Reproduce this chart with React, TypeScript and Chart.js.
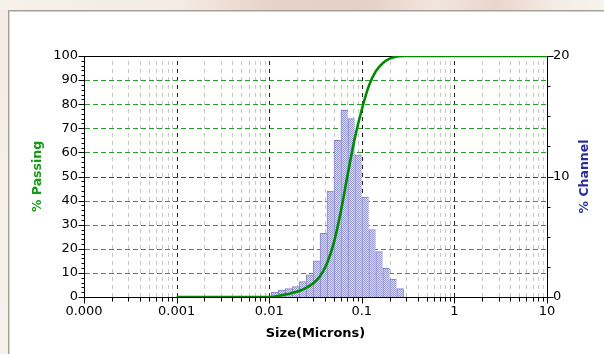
import React, { useEffect, useRef } from "react";
import { Chart, registerables } from "chart.js";

Chart.register(...registerables);
Chart.defaults.font.family = "'DejaVu Sans', sans-serif";

// Channel bin edges (microns) and % in each channel
const BIN_EDGES = [0.0105, 0.0125, 0.0149, 0.0177, 0.021, 0.025, 0.0297, 0.0354, 0.042, 0.05, 0.0595, 0.0707, 0.0841, 0.1, 0.1189, 0.1414, 0.1682, 0.2, 0.2378, 0.2828];
const CHANNEL_PCT = [0.39, 0.58, 0.69, 0.86, 1.27, 1.83, 3.0, 5.28, 8.8, 13.0, 15.5, 14.8, 11.8, 8.3, 5.6, 3.76, 2.38, 1.47, 0.69];

// Cumulative % passing curve
const CURVE_SIZES = [0.001, 0.0105, 0.0125, 0.0149, 0.0177, 0.021, 0.025, 0.0297, 0.0354, 0.042, 0.05, 0.0595, 0.0707, 0.0841, 0.1, 0.1189, 0.1414, 0.1682, 0.2, 0.2378, 0.2828, 10];
const CURVE_PASSING = [0, 0, 0.4, 1.0, 1.7, 2.5, 3.8, 5.6, 8.6, 13.9, 22.7, 35.7, 51.2, 66.0, 77.8, 87.5, 93.6, 97.0, 98.9, 99.8, 100, 100];

const X_TICKS = [0.0001, 0.001, 0.01, 0.1, 1, 10];
const X_TICK_LABELS = ["0.000", "0.001", "0.01", "0.1", "1", "10"];
const Y_TICKS = [0, 10, 20, 30, 40, 50, 60, 70, 80, 90, 100];
const Y2_TICKS = [0, 10, 20];

const X_TITLE = "Size(Microns)";
const Y_TITLE = "% Passing";
const Y2_TITLE = "% Channel";

const GREEN_GRID = "rgb(40,160,40)";
const BLUE_GRID = "rgb(50,50,190)";

function makePattern(): CanvasPattern | string {
  const c = document.createElement("canvas");
  c.width = 2;
  c.height = 2;
  const g = c.getContext("2d");
  if (!g) return "#b8b8e0";
  g.fillStyle = "#dadaf2";
  g.fillRect(0, 0, 2, 2);
  g.fillStyle = "#9a9ad2";
  g.fillRect(0, 0, 1, 1);
  g.fillRect(1, 1, 1, 1);
  return g.createPattern(c, "repeat") || "#b8b8e0";
}

function hLine(ctx: CanvasRenderingContext2D, x0: number, x1: number, yy: number, color: string) {
  ctx.save();
  ctx.lineWidth = 1;
  ctx.setLineDash([5, 3]);
  ctx.strokeStyle = color;
  ctx.beginPath();
  ctx.moveTo(x0, yy);
  ctx.lineTo(x1, yy);
  ctx.stroke();
  ctx.restore();
}

const decorPlugin = {
  id: "decor",
  beforeDatasetsDraw(chart: any) {
    const { ctx, chartArea: a, scales } = chart;
    const x = scales.x;
    const y = scales.y;
    const y2 = scales.y2;
    // vertical grid lines
    ctx.save();
    ctx.lineWidth = 1;
    ctx.setLineDash([4, 4]);
    for (let e = -4; e <= 0; e++) {
      for (let m = 1; m <= 9; m++) {
        if (e === -4 && m === 1) continue;
        const v = m * Math.pow(10, e);
        const px = Math.round(x.getPixelForValue(v)) + 0.5;
        ctx.strokeStyle = m === 1 ? "#1e1e1e" : "#c6c6c6";
        ctx.beginPath();
        ctx.moveTo(px, a.bottom);
        ctx.lineTo(px, a.top);
        ctx.stroke();
      }
    }
    ctx.restore();
    // horizontal grid lines
    const bluePix = Y2_TICKS.filter((v) => v > 0 && v < 20).map((v) => Math.round(y2.getPixelForValue(v)));
    for (const v of Y_TICKS) {
      if (v <= 0 || v >= 100) continue;
      const p = Math.round(y.getPixelForValue(v));
      if (bluePix.indexOf(p) >= 0) continue;
      hLine(ctx, a.left + 1, a.right, p + 0.5, GREEN_GRID);
    }
    for (const p of bluePix) {
      hLine(ctx, a.left + 1, a.right, p + 0.5, BLUE_GRID);
    }
    // top border
    ctx.save();
    ctx.lineWidth = 1;
    ctx.setLineDash([]);
    ctx.strokeStyle = "#000";
    ctx.beginPath();
    ctx.moveTo(a.left, Math.round(a.top) + 0.5);
    ctx.lineTo(a.right + 1, Math.round(a.top) + 0.5);
    ctx.stroke();
    ctx.restore();
  },
  afterDraw(chart: any) {
    const { ctx, chartArea: a, scales } = chart;
    const x = scales.x;
    const y = scales.y;
    const y2 = scales.y2;
    ctx.save();
    ctx.lineWidth = 1;
    ctx.strokeStyle = "#000";
    ctx.setLineDash([]);
    const L = Math.round(a.left) + 0.5;
    const R = Math.round(a.right) + 0.5;
    const B = Math.round(a.bottom) + 0.5;
    // left ticks every 2
    for (let v = 0; v <= 100; v += 2) {
      const p = Math.round(y.getPixelForValue(v)) + 0.5;
      const len = v % 10 === 0 ? 6 : 3;
      ctx.beginPath();
      ctx.moveTo(L - len, p);
      ctx.lineTo(L, p);
      ctx.stroke();
    }
    // right ticks every 2.5
    for (let v = 0; v <= 20; v += 2.5) {
      const p = Math.round(y2.getPixelForValue(v)) + 0.5;
      const len = v % 10 === 0 ? 6 : 3;
      ctx.beginPath();
      ctx.moveTo(R, p);
      ctx.lineTo(R + len, p);
      ctx.stroke();
    }
    // bottom ticks
    for (let e = -4; e <= 1; e++) {
      for (let m = 1; m <= 9; m++) {
        if (e === 1 && m > 1) break;
        const v = m * Math.pow(10, e);
        const px = Math.round(x.getPixelForValue(v)) + 0.5;
        const len = m === 1 ? 6 : 4;
        ctx.beginPath();
        ctx.moveTo(px, B);
        ctx.lineTo(px, B + len);
        ctx.stroke();
      }
    }
    // right axis title (reads bottom-to-top)
    ctx.translate(a.right + 37.5, (a.top + a.bottom) / 2);
    ctx.rotate(-Math.PI / 2);
    ctx.font = "bold 12.5px 'DejaVu Sans', sans-serif";
    ctx.fillStyle = "#2b2b9e";
    ctx.textAlign = "center";
    ctx.textBaseline = "middle";
    ctx.fillText(Y2_TITLE, 0, 0);
    ctx.restore();
  },
};

export default function App() {
  const ref = useRef<HTMLCanvasElement>(null);

  useEffect(() => {
    const canvas = ref.current;
    if (!canvas) return;
    const pattern = makePattern();
    const lastBar = CHANNEL_PCT.length - 1;
    const barData = CHANNEL_PCT.map((v, i) => ({
      x: Math.sqrt(BIN_EDGES[i] * BIN_EDGES[i + 1]),
      y: v,
    }));
    const curveData = CURVE_SIZES.map((s, i) => ({ x: s, y: CURVE_PASSING[i] }));

    const chart = new Chart(canvas, {
      type: "bar",
      data: {
        datasets: [
          {
            type: "line",
            data: curveData,
            xAxisID: "x",
            yAxisID: "y",
            borderColor: "#008a00",
            borderWidth: 2.6,
            pointRadius: 0,
            cubicInterpolationMode: "monotone",
            fill: false,
            order: 0,
          } as any,
          {
            type: "bar",
            data: barData,
            xAxisID: "x",
            yAxisID: "y2",
            backgroundColor: pattern as any,
            borderColor: "#8484c6",
            borderWidth: (c: any) =>
              c.dataIndex === lastBar
                ? { top: 1, left: 1, right: 1, bottom: 0 }
                : { top: 1, left: 1, right: 0, bottom: 0 },
            borderSkipped: "start",
            barPercentage: 1,
            categoryPercentage: 1,
            grouped: false,
            order: 1,
          } as any,
        ],
      },
      options: {
        responsive: false,
        animation: false,
        devicePixelRatio: 1,
        layout: { padding: { top: 56, left: 0, right: 0, bottom: 0 } },
        plugins: {
          legend: { display: false },
          tooltip: { enabled: false },
        },
        scales: {
          x: {
            type: "logarithmic",
            position: "bottom",
            min: 0.0001,
            max: 10,
            offset: false,
            afterBuildTicks: (s: any) => {
              s.ticks = X_TICKS.map((v) => ({ value: v }));
            },
            afterFit: (s: any) => {
              s.height = 57;
            },
            grid: { display: false, drawTicks: false },
            border: { display: true, color: "#000", width: 1 },
            ticks: {
              autoSkip: false,
              maxRotation: 0,
              padding: 7,
              color: "#000",
              font: { size: 13 },
              callback: (_v: any, i: number) => X_TICK_LABELS[i],
            },
            title: {
              display: true,
              text: X_TITLE,
              color: "#000",
              font: { size: 13, weight: "bold" },
              padding: { top: 0, bottom: 12.5 },
            },
          } as any,
          y: {
            type: "linear",
            position: "left",
            min: 0,
            max: 100,
            afterBuildTicks: (s: any) => {
              s.ticks = Y_TICKS.map((v) => ({ value: v }));
            },
            afterFit: (s: any) => {
              s.width = 84;
            },
            grid: { display: false, drawTicks: false },
            border: { display: true, color: "#000", width: 1 },
            ticks: {
              padding: 6,
              color: "#000",
              font: { size: 13 },
              callback: (v: any) => String(v),
            },
            title: {
              display: true,
              text: Y_TITLE,
              color: "#149a14",
              font: { size: 12.5, weight: "bold" },
              padding: { top: 30, bottom: 0 },
            },
          } as any,
          y2: {
            type: "linear",
            position: "right",
            min: 0,
            max: 20,
            afterBuildTicks: (s: any) => {
              s.ticks = Y2_TICKS.map((v) => ({ value: v }));
            },
            afterFit: (s: any) => {
              s.width = 57;
            },
            grid: { display: false, drawTicks: false, drawOnChartArea: false },
            border: { display: true, color: "#000", width: 1 },
            ticks: {
              padding: 6,
              color: "#000",
              font: { size: 13 },
              callback: (v: any) => String(v),
            },
          } as any,
        },
      },
      plugins: [decorPlugin],
    });
    return () => chart.destroy();
  }, []);

  return (
    <div
      style={{
        position: "fixed",
        left: 0,
        top: 0,
        width: 604,
        height: 354,
        overflow: "hidden",
        background: "linear-gradient(to bottom, #f4ece6, #f6f1ec)",
      }}
    >
      <div
        style={{
          position: "absolute",
          left: 0,
          top: 0,
          width: 604,
          height: 10,
          background:
            "linear-gradient(to right, #f6f1ea 0%, #f3ebe4 30%, #e8d2c7 45%, #e6cfc4 60%, #f1e6de 72%, #ead5cc 82%, #f4ece6 92%, #f7f3ee 100%)",
        }}
      />
      <div
        style={{
          position: "absolute",
          left: 8,
          top: 10,
          width: 596,
          height: 344,
          background: "#a4a098",
        }}
      />
      <div
        style={{
          position: "absolute",
          left: 9,
          top: 11,
          width: 595,
          height: 343,
          background: "#d6d2ca",
        }}
      />
      <div
        style={{
          position: "absolute",
          left: 10,
          top: 12,
          width: 594,
          height: 342,
          background: "#ffffff",
        }}
      />
      <canvas
        ref={ref}
        width={604}
        height={354}
        style={{ position: "absolute", left: 0, top: 0, display: "block" }}
      />
    </div>
  );
}
